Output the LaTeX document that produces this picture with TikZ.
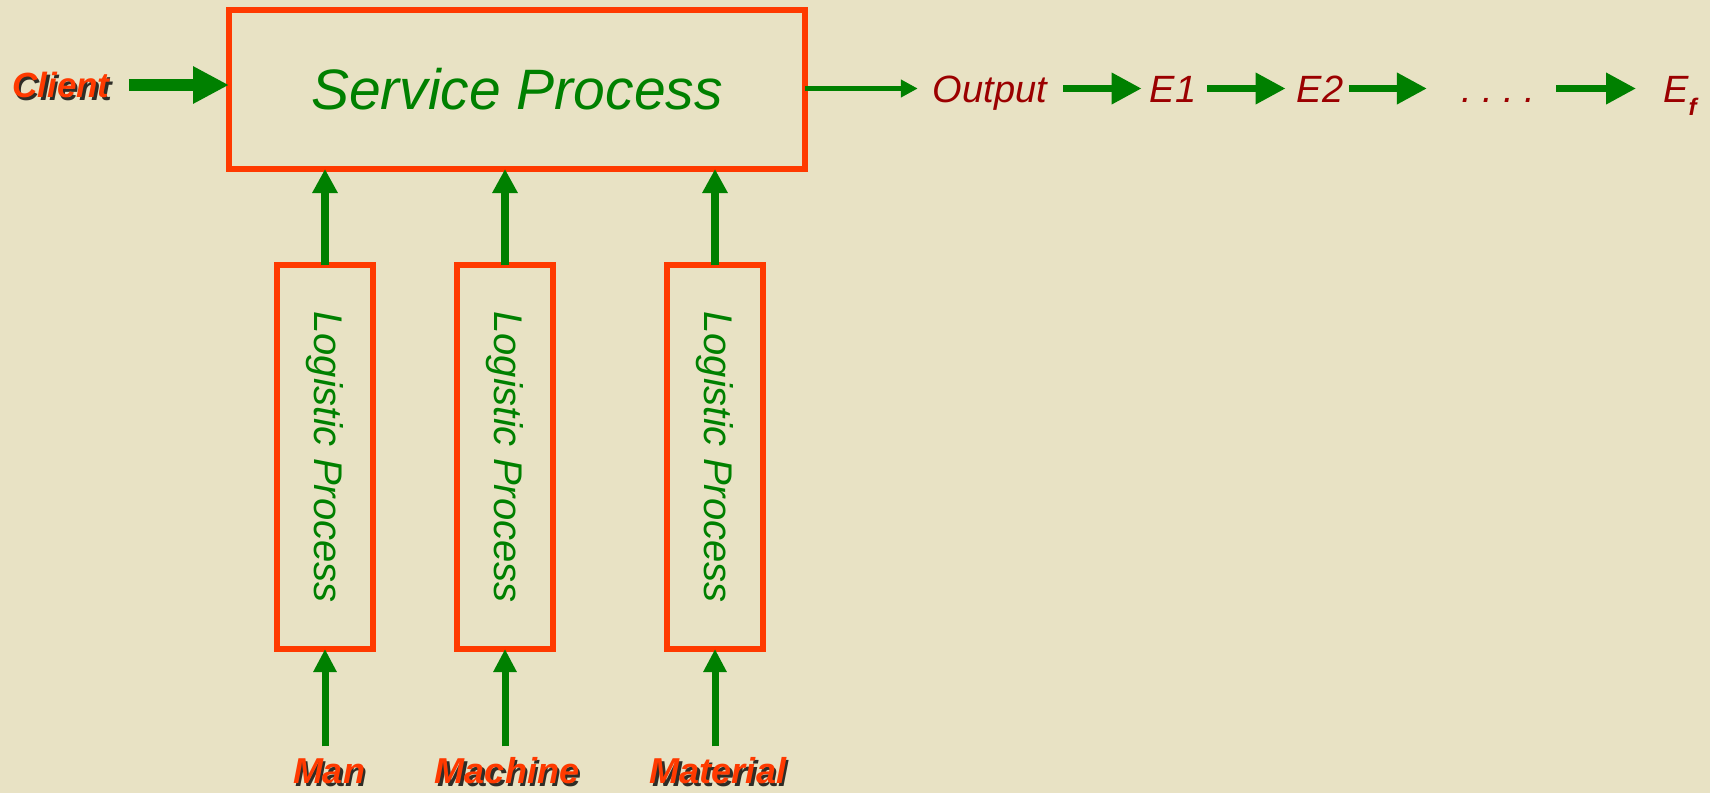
\documentclass[tikz,border=0pt]{standalone}
\usepackage{fontspec}
\setmainfont{Liberation Sans}
\usepackage{graphicx}
\usetikzlibrary{arrows.meta,calc}
\definecolor{bg}{RGB}{232,226,196}
\definecolor{boxred}{RGB}{255,58,0}
\definecolor{grn}{RGB}{0,128,0}
\definecolor{dred}{RGB}{155,0,0}
\tikzset{
  spbox/.style={draw=boxred, line width=6pt, minimum width=576pt, minimum height=159pt, inner sep=0pt},
  lpbox/.style={draw=boxred, line width=6pt, minimum width=96pt, minimum height=384pt, inner sep=0pt,
    text=grn, font=\fontsize{40}{40}\selectfont\itshape},
  lbl/.style={text=boxred, inner sep=0pt, text height=25pt, text depth=0pt},
  lblshadow/.style={text=black, opacity=0.8, inner sep=0pt, text height=25pt, text depth=0pt},
  chain/.style={text=dred, inner sep=0pt, text height=27pt, text depth=0pt, font=\fontsize{38}{38}\selectfont\itshape},
  bigarrow/.style={draw=grn, line width=12pt, -{Triangle[length=36pt,width=35pt]}},
  varrow/.style={draw=grn, line width=8pt, -{Triangle[length=24pt,width=24pt]}},
  barrow/.style={draw=grn, line width=7pt, -{Triangle[length=23pt,width=22pt]}},
  carrow/.style={draw=grn, line width=7pt, -{Triangle[length=30pt,width=30pt]}},
  tarrow/.style={draw=grn, line width=5pt, -{Triangle[length=17pt,width=17pt]}},
}
\newcommand\shlabel[4]{%
  \node[lblshadow, font=\fontsize{#4}{#4}\selectfont\bfseries\itshape] (#1s) at ($(#2)+(2.5,2.5)$) {#3};
  \node[lbl, font=\fontsize{#4}{#4}\selectfont\bfseries\itshape] (#1) at (#2) {#3};}
\begin{document}
\begin{tikzpicture}[x=1pt,y=-1pt]
\fill[bg] (0,0) rectangle (1710,793);
\useasboundingbox (0,0) rectangle (1710,793);

% service process
\node[spbox, text=grn, font=\fontsize{57}{57}\selectfont\itshape] (sp) at (517,89.5) {Service Process};

% client
\shlabel{client}{61,85}{Client}{35}
\draw[bigarrow, shorten <=19pt, shorten >=-3pt] (client.east) -- (client.east -| sp.west);

% output chain
\node[chain] (out) at (990,88.5) {Output};
\node[chain] (e1) at (1173,88.5) {E1};
\node[chain] (e2) at (1320,88.5) {E2};
\node[chain] (dots) at (1498,88.5) {.\ .\ .\ .};
\node[chain, anchor=west] (ef) at (1663,88.5) {E\raisebox{-0.35em}{\fontsize{24}{24}\selectfont\bfseries f}};

\draw[tarrow, shorten <=-3pt, shorten >=15pt] (sp.east |- out.west) -- (out.west);
\draw[carrow, shorten <=16pt, shorten >=8pt] (out.east) -- (e1.west);
\draw[carrow, shorten <=11pt, shorten >=11pt] (e1.east) -- (e2.west);
\draw[carrow, shorten <=6pt, shorten >=34pt] (e2.east) -- (dots.west);
\draw[carrow, shorten <=21pt, shorten >=27pt] (dots.east) -- (ef.west);

% logistic processes
\node[lpbox] (lp1) at (325,457) {\rotatebox{-90}{Logistic Process}};
\node[lpbox] (lp2) at (505,457) {\rotatebox{-90}{Logistic Process}};
\node[lpbox] (lp3) at (715,457) {\rotatebox{-90}{Logistic Process}};

\draw[varrow, shorten <=-3pt, shorten >=-3pt] (lp1.north) -- (lp1.north |- sp.south);
\draw[varrow, shorten <=-3pt, shorten >=-3pt] (lp2.north) -- (lp2.north |- sp.south);
\draw[varrow, shorten <=-3pt, shorten >=-3pt] (lp3.north) -- (lp3.north |- sp.south);

% resources
\shlabel{man}{329,771}{Man}{36}
\shlabel{machine}{507,771}{Machine}{36}
\shlabel{material}{718,771}{Material}{36}

\draw[barrow, shorten <=12pt, shorten >=-3pt] (man.north -| lp1.south) -- (lp1.south);
\draw[barrow, shorten <=12pt, shorten >=-3pt] (machine.north -| lp2.south) -- (lp2.south);
\draw[barrow, shorten <=12pt, shorten >=-3pt] (material.north -| lp3.south) -- (lp3.south);
\end{tikzpicture}
\end{document}
